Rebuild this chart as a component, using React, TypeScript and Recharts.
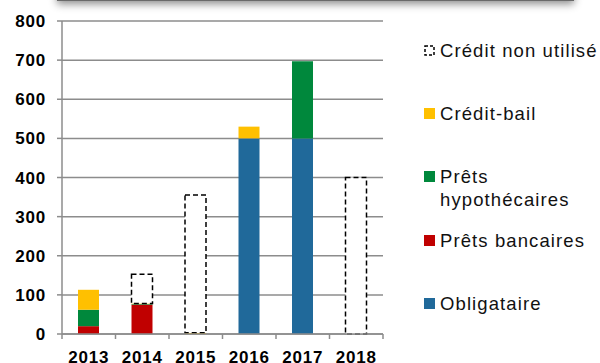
import React from 'react';
import { ComposedChart, Bar, XAxis, YAxis, CartesianGrid } from 'recharts';

const years = ['2013', '2014', '2015', '2016', '2017', '2018'];
const obligataire = [0, 0, 0, 500, 500, 0];
const pretsBancaires = [20, 75, 0, 0, 0, 0];
const pretsHypothecaires = [42, 1.5, 0, 0, 197, 0];
const creditBail = [51, 1.5, 3, 30, 0, 0];
const creditNonUtilise = [0, 75, 352, 0, 0, 400];
const yTicks = [0, 100, 200, 300, 400, 500, 600, 700, 800];

const data = years.map((year, i) => ({
  year,
  obligataire: obligataire[i],
  pretsBancaires: pretsBancaires[i],
  pretsHypothecaires: pretsHypothecaires[i],
  creditBail: creditBail[i],
  creditNonUtilise: creditNonUtilise[i],
}));

const legendItems = [
  { key: 'creditNonUtilise', lines: ['Crédit non utilisé'], color: 'none', dashed: true, top: 39 },
  { key: 'creditBail', lines: ['Crédit-bail'], color: '#FFC000', top: 102 },
  { key: 'pretsHypothecaires', lines: ['Prêts', 'hypothécaires'], color: '#00883C', top: 165 },
  { key: 'pretsBancaires', lines: ['Prêts bancaires'], color: '#C00000', top: 229 },
  { key: 'obligataire', lines: ['Obligataire'], color: '#20699A', top: 292 },
];

const GRID = '#8c8c8c';
const HALF_BAND = 26.75;
const FONT = "'Liberation Sans', Arial, sans-serif";

const XTick = (props: any) => {
  const { x, y, payload, index } = props;
  return (
    <g>
      <line x1={x - HALF_BAND} y1={y} x2={x - HALF_BAND} y2={y + 5} stroke={GRID} strokeWidth={1.5} />
      {index === years.length - 1 && (
        <line x1={x + HALF_BAND} y1={y} x2={x + HALF_BAND} y2={y + 5} stroke={GRID} strokeWidth={1.5} />
      )}
      <text x={x} y={y + 29} textAnchor="middle" fontFamily={FONT} fontWeight="bold" fontSize={17} letterSpacing={0.8} fill="#000">
        {payload.value}
      </text>
    </g>
  );
};

const DashedBox = (props: any) => {
  const { x, y, width, height } = props;
  if (!height || height < 0.5) return null;
  return (
    <rect x={x} y={y} width={width} height={height} fill="#fff" stroke="#000" strokeWidth={1.5} strokeDasharray="5 3" />
  );
};

const LegendBlock = () => (
  <div style={{ position: 'absolute', left: 424, top: 0, width: 180, height: 363 }}>
    {legendItems.map((it) => (
      <div key={it.key} style={{ position: 'absolute', left: 0, top: it.top, display: 'flex', alignItems: 'flex-start' }}>
        <svg width={12} height={12} style={{ marginTop: 6, marginRight: 4, flex: 'none' }}>
          {it.dashed ? (
            <rect x={1} y={1} width={9} height={9} fill="none" stroke="#000" strokeWidth={1.5} strokeDasharray="3 2" />
          ) : (
            <rect x={0} y={0} width={11} height={11} fill={it.color} />
          )}
        </svg>
        <div style={{ fontFamily: FONT, fontSize: 18.5, letterSpacing: 1.1, lineHeight: '23px', color: '#111', whiteSpace: 'nowrap' }}>
          {it.lines.map((l) => (
            <div key={l}>{l}</div>
          ))}
        </div>
      </div>
    ))}
  </div>
);

export default function App() {
  return (
    <div style={{ position: 'absolute', left: 0, top: 0, width: 600, height: 363, overflow: 'hidden', background: '#fff' }}>
      <div
        style={{
          position: 'absolute',
          left: 57,
          top: -30,
          width: 517,
          height: 30,
          background: '#fff',
          borderBottom: '1.5px solid #6a6a6a',
          boxShadow: '0 3px 8px rgba(0,0,0,0.45)',
        }}
      />
      <div style={{ position: 'absolute', left: 0, top: 0 }}>
        <ComposedChart
          width={600}
          height={363}
          data={data}
          margin={{ top: 21, right: 217, bottom: 0, left: 0 }}
          barSize={21}
        >
          <CartesianGrid vertical={false} stroke={GRID} strokeWidth={1.5} />
          <XAxis
            dataKey="year"
            height={29}
            axisLine={{ stroke: GRID, strokeWidth: 1.5 }}
            tickLine={false}
            tickSize={0}
            tickMargin={0}
            tick={<XTick />}
            interval={0}
          />
          <YAxis
            width={62}
            domain={[0, 800]}
            ticks={yTicks}
            interval={0}
            axisLine={{ stroke: GRID, strokeWidth: 1.5 }}
            tickLine={{ stroke: GRID, strokeWidth: 1.5 }}
            tickSize={5}
            tickMargin={11}
            tick={{ fontFamily: FONT, fontWeight: 'bold', fontSize: 17, letterSpacing: 0.8, fill: '#000' }}
          />
          <Bar dataKey="obligataire" stackId="a" fill="#20699A" isAnimationActive={false} />
          <Bar dataKey="pretsBancaires" stackId="a" fill="#C00000" isAnimationActive={false} />
          <Bar dataKey="pretsHypothecaires" stackId="a" fill="#00883C" isAnimationActive={false} />
          <Bar dataKey="creditBail" stackId="a" fill="#FFC000" isAnimationActive={false} />
          <Bar dataKey="creditNonUtilise" stackId="a" fill="#fff" shape={<DashedBox />} isAnimationActive={false} />
        </ComposedChart>
      </div>
      <LegendBlock />
    </div>
  );
}
